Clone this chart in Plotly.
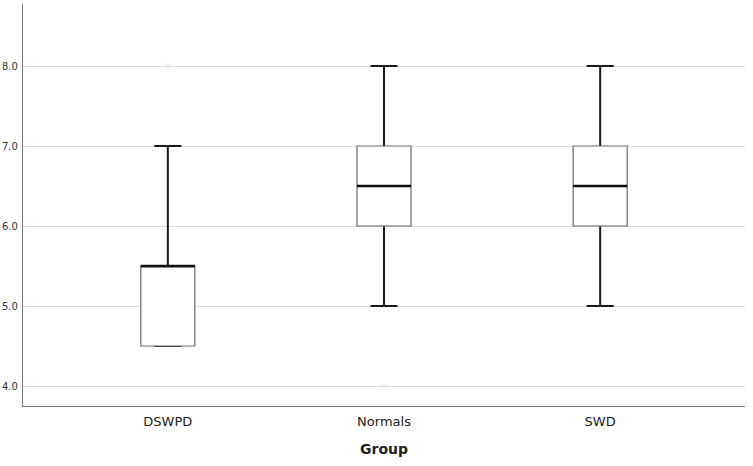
import plotly.graph_objects as go

groups = ["DSWPD", "Normals", "SWD"]
q1 = [4.5, 6.0, 6.0]
median = [5.5, 6.5, 6.5]
q3 = [5.5, 7.0, 7.0]
lower_whisker = [4.5, 5.0, 5.0]
upper_whisker = [7.0, 8.0, 8.0]
outlier_groups = ["DSWPD", "Normals"]
outlier_values = [8.0, 4.0]
y_ticks = [4.0, 5.0, 6.0, 7.0, 8.0]

fig = go.Figure()

# whiskers (from median out to the whisker ends; the box covers the inner part)
fig.add_trace(go.Box(
    x=groups, q1=median, median=median, q3=median,
    lowerfence=lower_whisker, upperfence=upper_whisker,
    width=0.25, whiskerwidth=0.5,
    line=dict(color="#1a1a1a", width=2), fillcolor="rgba(0,0,0,0)",
    boxpoints=False, hoverinfo="skip", showlegend=False,
))
# box body
fig.add_trace(go.Box(
    x=groups, q1=q1, median=median, q3=q3,
    lowerfence=q1, upperfence=q3,
    width=0.25, whiskerwidth=0,
    line=dict(color="#6a6a6a", width=1.2), fillcolor="white",
    boxpoints=False, showlegend=False,
))
# median line
fig.add_trace(go.Box(
    x=groups, q1=median, median=median, q3=median,
    lowerfence=median, upperfence=median,
    width=0.25, whiskerwidth=0,
    line=dict(color="#111111", width=2.6), fillcolor="rgba(0,0,0,0)",
    boxpoints=False, hoverinfo="skip", showlegend=False,
))
# faint outliers
fig.add_trace(go.Scatter(
    x=outlier_groups, y=outlier_values, mode="markers",
    marker=dict(symbol="circle-open", size=4, color="#e6e6e6", line=dict(width=1)),
    showlegend=False,
))

fig.update_layout(
    width=753, height=466,
    margin=dict(l=23, r=8, t=4, b=60),
    paper_bgcolor="white", plot_bgcolor="white",
    boxmode="overlay",
    font=dict(family="DejaVu Sans", color="#222"),
    xaxis=dict(
        type="category", range=[-0.67, 2.67], automargin=False,
        showgrid=False, showline=True, linecolor="#7a7a7a", linewidth=1.2,
        ticks="", ticklabelstandoff=3, tickfont=dict(size=13, color="#222"),
        title=dict(text="<b>Group</b>", font=dict(size=14, color="#222"), standoff=16),
    ),
    yaxis=dict(
        range=[3.75, 8.775], tickvals=y_ticks, ticktext=[f"{v:.1f}" for v in y_ticks],
        automargin=False,
        showgrid=True, gridcolor="#d9d9d9", gridwidth=1.2,
        showline=True, linecolor="#7a7a7a", linewidth=1.2,
        ticks="", ticklabelstandoff=2, tickfont=dict(size=10, color="#333"),
        zeroline=False,
    ),
)

fig.write_html(
    "out.html",
    config={"displayModeBar": False},
    post_script="document.body.style.margin='0';document.body.style.overflow='hidden';",
)
